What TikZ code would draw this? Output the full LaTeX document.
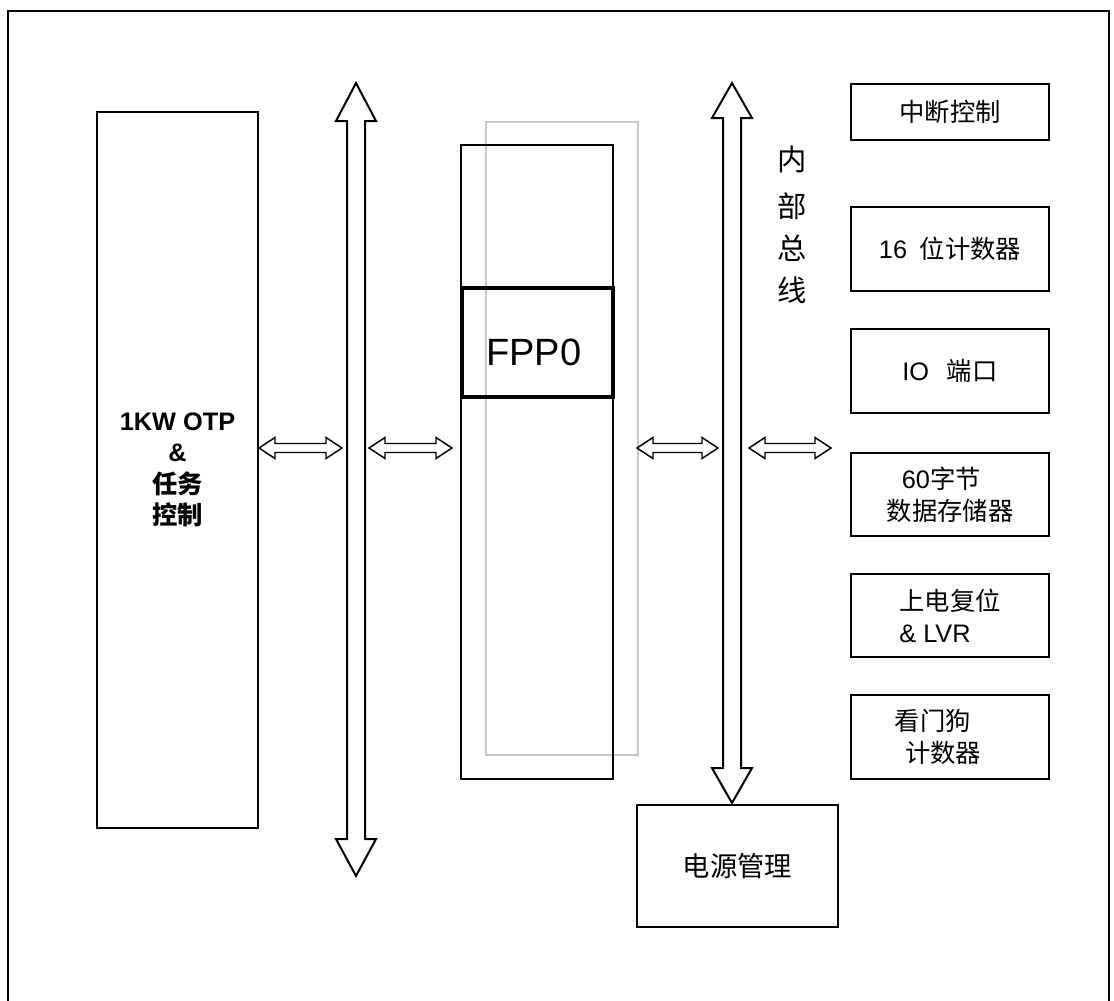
\documentclass[tikz,border=0pt]{standalone}
\usepackage{fontspec}
\setmainfont{Liberation Sans}
\newfontfamily\cjk{Noto Sans CJK SC}
\newcommand\hbarrow[2]{%
  \draw[harrow] (#1,448) -- ({#1+16},437.5) -- ({#1+16},443.5) -- ({#2-16},443.5) -- ({#2-16},437.5)
   -- (#2,448) -- ({#2-16},458.5) -- ({#2-16},452.5) -- ({#1+16},452.5) -- ({#1+16},458.5) -- cycle;}
\begin{document}
\begin{tikzpicture}[x=0.75pt,y=-0.75pt,
  box/.style={draw, line width=1.5pt, inner sep=0pt, align=center},
  rbox/.style={box, minimum width=148.5pt, minimum height=62.5pt, font=\fontsize{19}{24}\selectfont},
  harrow/.style={draw, line width=1.1pt, line join=miter},
  varrow/.style={draw, line width=1.5pt, line join=miter},
  vtxt/.style={font=\cjk\fontsize{22}{26}\selectfont, inner sep=0pt}]
\useasboundingbox (0,0) rectangle (1114,1000);
% outer frame
\draw[line width=1.5pt] (8,1002) -- (8,11) -- (1109,11) -- (1109,1002);
% left box
\node (otp) [box, minimum width=120.75pt, minimum height=537pt, font=\bfseries\fontsize{19}{23.5}\selectfont] at (177.5,470)
  {1KW OTP\\\&\\{\cjk 任务}\\{\cjk 控制}};
% gray box
\node (gray) [box, draw=black!22, minimum width=114pt, minimum height=474.75pt] at (562,438.5) {};
% middle box
\node (mid) [box, minimum width=114pt, minimum height=475.5pt] at (537,462) {};
\node (fppbox) [box, line width=2.4pt, minimum width=113.25pt, minimum height=81.75pt] at (537.5,342.5) {};
\node (fpp) [anchor=west, inner sep=0pt, font=\fontsize{28.5}{30}\selectfont] at (486,352) {FPP0};
% right boxes
\node (r1) [rbox, minimum height=42pt] at (950,112) {{\cjk 中断控制}};
\node (r2) [rbox] at (950,249) {16\hspace{0.5em}{\cjk 位计数器}};
\node (r3) [rbox] at (950,371) {IO\hspace{0.7em}{\cjk 端口}};
\node (r4) [rbox] at (950,494.5) {};
\node (r4t) [align=left, inner sep=0pt, font=\fontsize{19}{24}\selectfont] at (950,494.5) {\hspace{0.6em}60{\cjk 字节}\\{\cjk 数据存储器}};
\node (r5) [rbox] at (950,615.5) {};
\node (r5t) [align=left, inner sep=0pt, font=\fontsize{19}{24}\selectfont] at (950,615.5) {{\cjk 上电复位}\\\& LVR};
\node (r6) [rbox] at (950,737) {};
\node (r6t) [align=left, inner sep=0pt, font=\fontsize{19}{24}\selectfont] at (938,737) {{\cjk 看门狗}\\\hspace{0.4em}{\cjk 计数器}};
% power box
\node (pwr) [box, minimum width=150.75pt, minimum height=91.5pt, font=\cjk\fontsize{20.5}{24}\selectfont] at (737.5,866) {电源管理};
% vertical bus label
\node (v1) [vtxt] at (792,159) {内};
\node (v2) [vtxt] at (792,206) {部};
\node (v3) [vtxt] at (792,248) {总};
\node (v4) [vtxt] at (792,290) {线};
% vertical double arrows
\draw[varrow] (356,83) -- (376,121) -- (365,121) -- (365,839) -- (376,839) -- (356,876)
  -- (336,839) -- (347,839) -- (347,121) -- (336,121) -- cycle;
\draw[varrow] (732,83) -- (752,118) -- (741,118) -- (741,768) -- (752,768) -- (732,803)
  -- (712,768) -- (723,768) -- (723,118) -- (712,118) -- cycle;
% horizontal double arrows
\hbarrow{259}{342}
\hbarrow{369}{452}
\hbarrow{637}{718}
\hbarrow{749}{831}
\end{tikzpicture}
\end{document}
